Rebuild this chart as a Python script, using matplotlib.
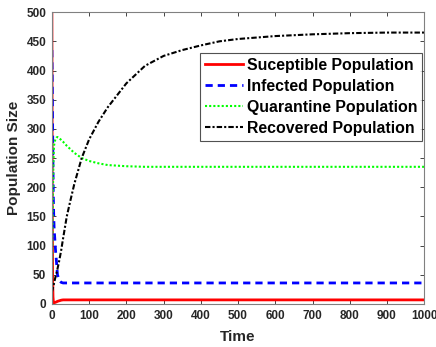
import matplotlib.pyplot as plt

plt.rcParams['font.family'] = ['Liberation Sans', 'DejaVu Sans']
plt.rcParams['font.weight'] = 'bold'

# time samples (dense near t=0 where things move fast)
time = [0, 1, 2, 3, 4, 5, 6, 8, 10, 12, 15, 20, 25, 30, 40, 50, 60, 80, 100,
        125, 150, 200, 250, 300, 350, 400, 450, 500, 600, 700, 800, 900, 1000]

susceptible = [500, 160, 45, 12, 4, 2, 2, 2.5, 3, 3.5, 4.5, 5.5, 6.5, 7, 7, 7, 7,
               7, 7, 7, 7, 7, 7, 7, 7, 7, 7, 7, 7, 7, 7, 7, 7]
infected = [435, 380, 300, 230, 180, 150, 130, 110, 90, 75, 50, 40, 37, 36, 36,
            36, 36, 36, 36, 36, 36, 36, 36, 36, 36, 36, 36, 36, 36, 36, 36, 36, 36]
quarantine = [0, 80, 150, 200, 240, 262, 272, 279, 283, 285, 286, 284, 281, 278,
              271, 265, 259, 250, 245, 241, 238, 236, 235, 235, 235, 235, 235,
              235, 235, 235, 235, 235, 235]
recovered = [20, 23, 25, 28, 31, 33, 36, 42, 47, 52, 60, 75, 92, 112, 150, 178,
             205, 250, 282, 312, 337, 378, 408, 425, 435, 443, 450, 454, 459,
             462, 464, 465, 465]

labels = ["Suceptible Population", "Infected Population",
          "Quarantine Population", "Recovered Population"]

fig = plt.figure(figsize=(4.36, 3.47), dpi=100)
ax = fig.add_axes([0.119, 0.124, 0.854, 0.841])

ax.plot(time, susceptible, color="#ff0000", lw=2, ls="-", label=labels[0])
ax.plot(time, infected, color="#0000ff", lw=2, ls=(0, (2.6, 1.8)), label=labels[1])
ax.plot(time, quarantine, color="#00ff00", lw=1.5, ls=(0, (1, 1)), label=labels[2])
ax.plot(time, recovered, color="#000000", lw=1.5, ls=(0, (2.6, 1, 1, 1)), label=labels[3])

ax.set_xlim(0, 1000)
ax.set_ylim(0, 500)
ax.set_xticks(range(0, 1001, 100))
ax.set_yticks(range(0, 501, 50))

gray = "#262626"
for s in ax.spines.values():
    s.set_color("#808080")
    s.set_linewidth(0.8)
ax.tick_params(direction="in", top=True, right=True, length=3, width=0.6,
               color=gray, labelcolor=gray, labelsize=8.5, pad=4)
for t in ax.get_xticklabels() + ax.get_yticklabels():
    t.set_fontweight("bold")

ax.set_xlabel("Time", fontsize=11, fontweight="bold", color=gray, labelpad=6)
ax.set_ylabel("Population Size", fontsize=11, fontweight="bold", color=gray, labelpad=4)

leg = ax.legend(loc="upper right", bbox_to_anchor=(0.995, 0.86),
                frameon=True, fancybox=False, handlelength=2.4, handletextpad=0.25,
                borderpad=0.3, labelspacing=0.38, borderaxespad=0,
                prop={"weight": "bold", "size": 11.4})
leg.get_frame().set_edgecolor(gray)
leg.get_frame().set_linewidth(0.8)

fig.savefig("out.png", dpi=100)
